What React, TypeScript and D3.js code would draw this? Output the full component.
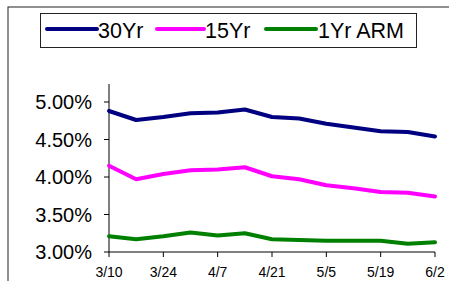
import React from 'react';
import * as d3 from 'd3';

const weeks = ['3/10', '3/17', '3/24', '3/31', '4/7', '4/14', '4/21', '4/28', '5/5', '5/12', '5/19', '5/26', '6/2'];
const tickWeeks = ['3/10', '3/24', '4/7', '4/21', '5/5', '5/19', '6/2'];
const rate30 = [4.88, 4.76, 4.80, 4.85, 4.86, 4.90, 4.80, 4.78, 4.71, 4.66, 4.61, 4.60, 4.54];
const rate15 = [4.15, 3.97, 4.04, 4.09, 4.10, 4.13, 4.01, 3.97, 3.89, 3.85, 3.80, 3.79, 3.74];
const rateArm = [3.21, 3.17, 3.21, 3.26, 3.22, 3.25, 3.17, 3.16, 3.15, 3.15, 3.15, 3.11, 3.13];
const yTicks = [3.0, 3.5, 4.0, 4.5, 5.0];

const series = [
  { name: '30Yr', values: rate30, color: '#000080' },
  { name: '15Yr', values: rate15, color: '#ff00ff' },
  { name: '1Yr ARM', values: rateArm, color: '#008000' },
];

const W = 449;
const H = 281;
const font = '"Liberation Sans", Arial, sans-serif';

const App: React.FC = () => {
  const x = d3.scalePoint<string>().domain(weeks).range([109, 435]);
  const y = d3.scaleLinear().domain([3, 5.24]).range([252, 84]);

  const line = d3.line<number>()
    .x((_d, i) => x(weeks[i]) as number)
    .y(d => y(d));

  // legend positions
  const legendItems = [
    { x1: 47, x2: 97, tx: 98 },
    { x1: 157, x2: 204, tx: 205 },
    { x1: 266, x2: 316, tx: 318 },
  ];

  return (
    <svg width={W} height={H} style={{ position: 'absolute', left: 0, top: 0 }}>
      <rect x={0} y={0} width={W} height={H} fill="#fff" />
      <rect x={8} y={7} width={470} height={320} fill="none" stroke="#222" strokeWidth={1} />

      {/* legend */}
      <rect x={40.5} y={13.5} width={376} height={34} fill="#fff" stroke="#222" strokeWidth={1} />
      {series.map((s, i) => (
        <g key={s.name}>
          <line x1={legendItems[i].x1} x2={legendItems[i].x2} y1={29} y2={29}
            stroke={s.color} strokeWidth={4} strokeLinecap="round" />
          <text x={legendItems[i].tx} y={37.5} fontFamily={font} fontSize={21.5} fill="#000">{s.name}</text>
        </g>
      ))}

      {/* y axis */}
      <line x1={109} x2={109} y1={84} y2={252} stroke="#000" strokeWidth={1} />
      {yTicks.map(t => (
        <g key={t}>
          <line x1={104} x2={109} y1={y(t)} y2={y(t)} stroke="#000" />
          <text x={92} y={y(t) + 7} textAnchor="end" fontFamily={font} fontSize={20} fill="#000">
            {t.toFixed(2)}%
          </text>
        </g>
      ))}

      {/* x axis */}
      <line x1={109} x2={435} y1={252} y2={252} stroke="#000" strokeWidth={1} />
      {tickWeeks.map(w => (
        <g key={w}>
          <line x1={x(w)} x2={x(w)} y1={252} y2={257} stroke="#000" />
          <text x={x(w)} y={277} textAnchor="middle" fontFamily={font} fontSize={14} fill="#000">{w}</text>
        </g>
      ))}

      {series.map(s => (
        <path key={s.name} d={line(s.values) || ''} fill="none" stroke={s.color}
          strokeWidth={4} strokeLinejoin="round" strokeLinecap="round" />
      ))}
    </svg>
  );
};

export default App;
